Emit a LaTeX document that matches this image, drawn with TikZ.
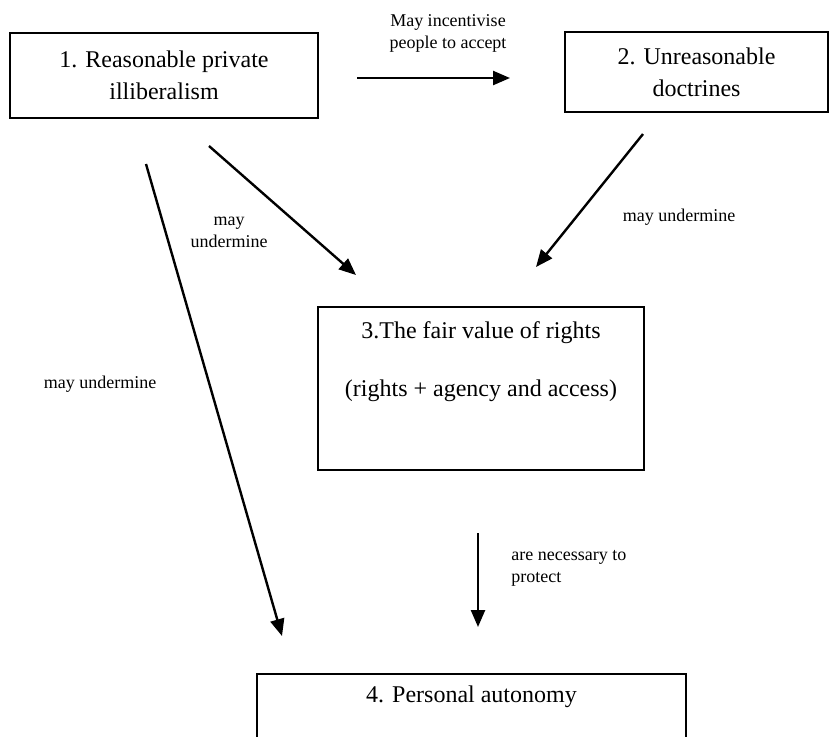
\documentclass[tikz,border=0pt]{standalone}
\usepackage{fontspec}
\setmainfont{Liberation Serif}
\usetikzlibrary{arrows.meta}
\begin{document}
\begin{tikzpicture}[x=0.5pt,y=-0.5pt,
  box/.style={draw, line width=0.8pt, rectangle, inner sep=0pt},
  boxtext/.style={font=\fontsize{12}{16}\selectfont, align=center, inner sep=0pt},
  lbl/.style={font=\fontsize{9}{11}\selectfont, align=center, inner sep=0pt},
  link/.style={line width=1.2pt, -{Triangle[length=8.5pt,width=7pt]}}]
\clip (0,0) rectangle (829,736);

% boxes
\node[box, boxtext, minimum width=154pt, minimum height=42.5pt] (b1) at (164,75.5)
  {1. Reasonable private\\illiberalism};
\node[box, boxtext, minimum width=131.5pt, minimum height=40pt] (b2) at (696.5,72)
  {2. Unreasonable\\doctrines};
\node[box, minimum width=163pt, minimum height=81.5pt] (b3) at (481,388.5) {};
\node[boxtext] (t3) at (481,362)
  {3.The fair value of rights\\[13pt](rights + agency and access)};
\node[box, minimum width=214.5pt, minimum height=53pt] (b4) at (471.5,727) {};
\node[boxtext] (t4) at (471.5,697) {4. Personal autonomy};

% connector end points
\coordinate (p12s) at (357,78);  \coordinate (p12e) at (510,78);
\coordinate (p13s) at (209,146); \coordinate (p13e) at (356,275);
\coordinate (p23s) at (643,134); \coordinate (p23e) at (536,267);
\coordinate (p14s) at (146,164); \coordinate (p14e) at (282,636);
\coordinate (p34s) at (478,533); \coordinate (p34e) at (478,627);

% connectors
\draw[link] (p12s) -- (p12e);
\draw[link] (p13s) -- (p13e);
\draw[link] (p23s) -- (p23e);
\draw[link] (p14s) -- (p14e);
\draw[link] (p34s) -- (p34e);

% connector labels
\node[lbl] (l12) at (448,33) {May incentivise\\people to accept};
\node[lbl] (l13) at (229,232) {may\\undermine};
\node[lbl] (l23) at (679,217) {may undermine};
\node[lbl] (l14) at (100,384) {may undermine};
\node[lbl, align=left, anchor=west] (l34) at (511,568) {are necessary to\\protect};
\end{tikzpicture}
\end{document}
